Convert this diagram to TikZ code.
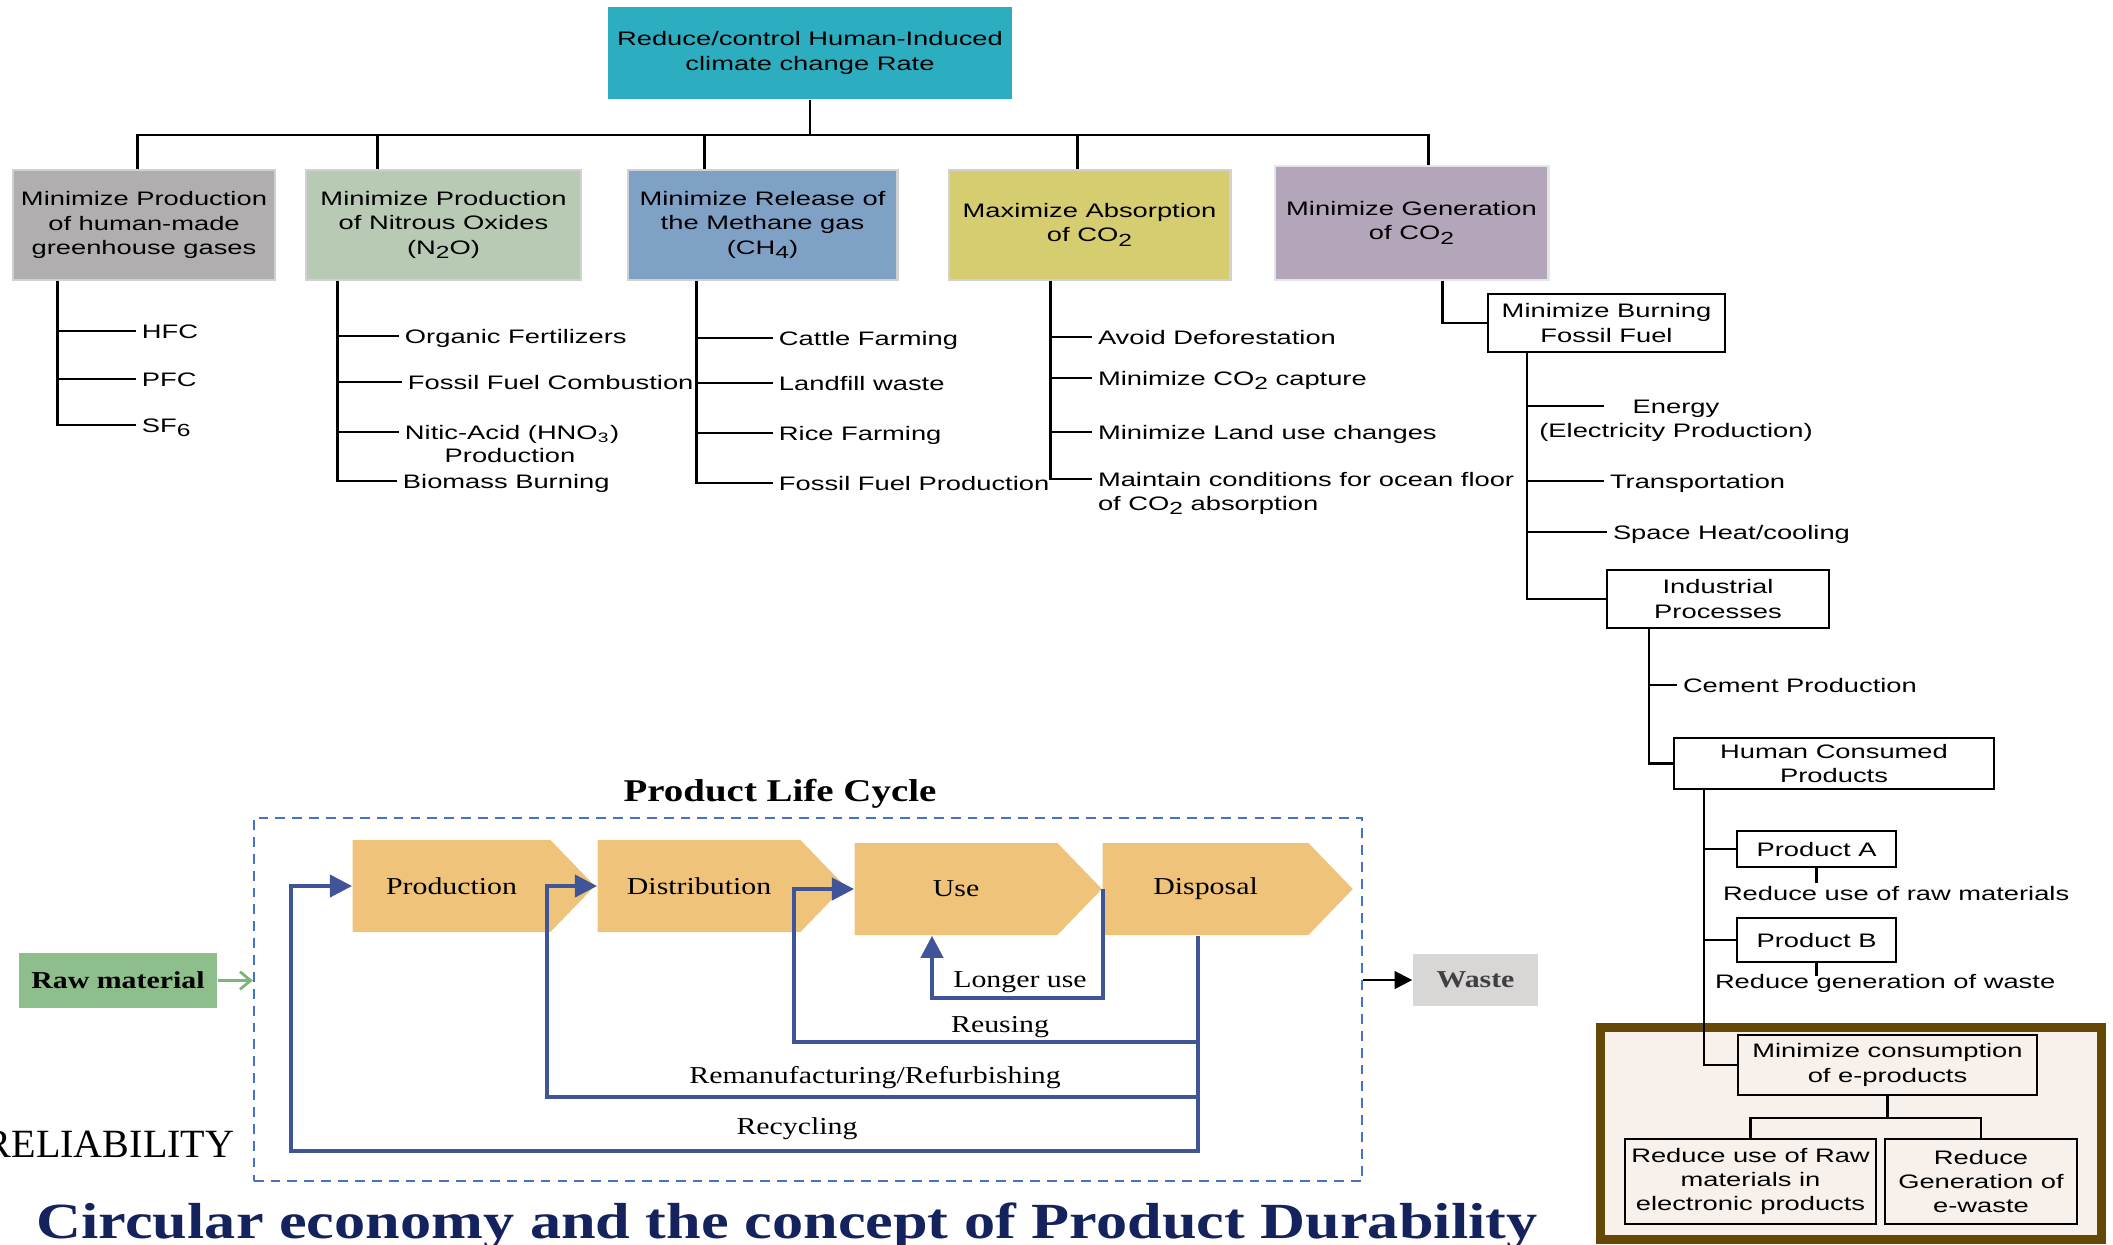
\documentclass[tikz,border=0pt]{standalone}
\usepackage{fontspec}
\setmainfont{Liberation Serif}[FakeStretch=1.23]
\newfontfamily\sansft{Liberation Sans}[FakeStretch=1.4]
\newfontfamily\plainserif{Liberation Serif}
\usetikzlibrary{positioning,calc,arrows.meta,shapes.symbols}

\definecolor{cteal}{RGB}{45,173,192}
\definecolor{cgray}{RGB}{177,174,176}
\definecolor{csage}{RGB}{184,201,180}
\definecolor{cblue}{RGB}{128,161,198}
\definecolor{cyell}{RGB}{214,205,112}
\definecolor{cpurp}{RGB}{179,166,186}
\definecolor{corange}{RGB}{240,195,122}
\definecolor{cloop}{RGB}{63,85,151}
\definecolor{cdash}{RGB}{68,114,196}
\definecolor{cgreen}{RGB}{142,190,139}
\definecolor{cgreenln}{RGB}{125,180,122}
\definecolor{cwaste}{RGB}{217,214,214}
\definecolor{cnavy}{RGB}{20,35,94}
\definecolor{cbrown}{RGB}{102,72,6}
\definecolor{cpale}{RGB}{247,240,235}

\newcommand\sfsmall{\sansft\fontsize{5.55}{6.9}\selectfont}
\newcommand\rmsmall{\fontsize{6.9}{8}\selectfont}
\newcommand\csub[1]{\raisebox{-0.45ex}{\fontsize{5}{5}\selectfont#1}}

\tikzset{
  ln/.style={line width=0.6pt},
  goalbox/.style={fill=#1, draw=black!18, line width=0.8pt, align=center, inner sep=1pt, font=\sfsmall},
  wbox/.style={draw, fill=white, line width=0.7pt, align=center, inner sep=1pt, font=\sfsmall},
  item/.style={anchor=west, inner sep=1.5pt, font=\sfsmall, text height=4.5pt, text depth=0.5pt},
  chev/.style={shape=signal, signal to=east, signal pointer angle=92, fill=corange,
    minimum height=0.92cm, inner sep=0pt, anchor=west, font=\rmsmall},
  loopline/.style={draw=cloop, line width=1.1pt, -{Triangle[length=6.3pt,width=6.3pt]}},
  lbl/.style={font=\rmsmall, inner sep=0pt},
  frame/.style={draw=cbrown, fill=cpale, line width=2.6pt},
}

\begin{document}
\begin{tikzpicture}[x=0.01cm, y=-0.01cm]
\useasboundingbox (0,0) rectangle (2113,1244);

% goal and first level
\node[goalbox=cteal, draw=none, minimum width=4.03cm, minimum height=0.91cm] (top) at (810,53)
  {Reduce/control Human-Induced\\climate change Rate};
\node[goalbox=cgray, minimum width=2.62cm, minimum height=1.1cm] (g1) at (144,225)
  {Minimize Production\\of human-made\\greenhouse gases};
\node[goalbox=csage, minimum width=2.75cm, minimum height=1.1cm] (g2) at (443.5,225)
  {Minimize Production\\of Nitrous Oxides\\(N\csub{2}O)};
\node[goalbox=cblue, minimum width=2.69cm, minimum height=1.1cm] (g3) at (762.5,225)
  {Minimize Release of\\the Methane gas\\(CH\csub{4})};
\node[goalbox=cyell, minimum width=2.81cm, minimum height=1.1cm] (g4) at (1089.5,225)
  {Maximize Absorption\\of CO\csub{2}};
\node[goalbox=cpurp, draw=black!10, minimum width=2.73cm, minimum height=1.14cm] (g5) at (1411.5,223)
  {Minimize Generation\\of CO\csub{2}};

\coordinate (bar) at ($(top.south)+(0,35)$);
\coordinate (d1) at ($(g1.north west)+(126,0)$);
\coordinate (d2) at ($(g2.north west)+(73,0)$);
\coordinate (d3) at ($(g3.north west)+(78,0)$);
\coordinate (d4) at ($(g4.north west)+(130,0)$);
\coordinate (d5) at ($(g5.north west)+(155,0)$);
\draw[ln] (top.south) -- (top.south |- bar);
\draw[ln] (d1) |- (d5 |- bar) -- (d5);
\foreach \d in {d2,d3,d4}
  \draw[ln] (\d) -- (\d |- bar);

% greenhouse gases
\node[item] (hfc) at (136,331) {HFC};
\node[item] (pfc) at (136,379) {PFC};
\node[item] (sf6) at (136,425) {SF\csub{6}};
\coordinate (b1) at ($(g1.south west)+(46,0)$);
\draw[ln] (b1) |- (sf6.west);
\foreach \n in {hfc,pfc}
  \draw[ln] (b1 |- \n) -- (\n.west);

% nitrous oxides
\node[item] (orgf) at (399,336) {Organic Fertilizers};
\node[item] (ffc) at (402,382) {Fossil Fuel Combustion};
\node[item] (nit) at (399,432) {Nitic-Acid (HNO\textsubscript{3})};
\node[item, anchor=center] (nitp) at (510,455) {Production};
\node[item] (biom) at (397,481) {Biomass Burning};
\coordinate (b2) at ($(g2.south west)+(33,0)$);
\draw[ln] (b2) |- (biom.west);
\foreach \n in {orgf,ffc,nit}
  \draw[ln] (b2 |- \n) -- (\n.west);

% methane
\node[item] (cat) at (773,338) {Cattle Farming};
\node[item] (lfw) at (773,383) {Landfill waste};
\node[item] (rice) at (773,433) {Rice Farming};
\node[item] (ffp) at (773,483) {Fossil Fuel Production};
\coordinate (b3) at ($(g3.south west)+(70,0)$);
\draw[ln] (b3) |- (ffp.west);
\foreach \n in {cat,lfw,rice}
  \draw[ln] (b3 |- \n) -- (\n.west);

% absorption
\node[item] (defo) at (1092,337) {Avoid Deforestation};
\node[item] (capt) at (1092,378) {Minimize CO\csub{2} capture};
\node[item] (land) at (1092,432) {Minimize Land use changes};
\node[item] (ocean) at (1092,479) {Maintain conditions for ocean floor};
\node[item] (ocean2) at (1092,503) {of CO\csub{2} absorption};
\coordinate (b4) at ($(g4.south west)+(103,0)$);
\draw[ln] (b4) |- (ocean.west);
\foreach \n in {defo,capt,land}
  \draw[ln] (b4 |- \n) -- (\n.west);

% generation
\node[wbox, minimum width=2.37cm, minimum height=0.58cm] (burn) at (1606.5,323) {Minimize Burning\\Fossil Fuel};
\coordinate (b5) at ($(g5.south west)+(169,0)$);
\draw[ln] (b5) |- (burn.west);

\node[item, anchor=center] (ene) at (1676,406) {Energy};
\node[item, anchor=center] (elec) at (1676,430) {(Electricity Production)};
\node[item] (trn) at (1604,481) {Transportation};
\node[item] (shc) at (1607,532) {Space Heat/cooling};
\node[wbox, minimum width=2.22cm, minimum height=0.58cm] (ind) at (1718,599) {Industrial\\Processes};
\coordinate (bb) at ($(burn.south west)+(40,0)$);
\draw[ln] (bb) |- (ind.west);
\draw[ln] (bb |- ene) -- (trn.west |- ene);
\foreach \n in {trn,shc}
  \draw[ln] (bb |- \n) -- (\n.west);

\node[item] (cem) at (1677,685) {Cement Production};
\node[wbox, minimum width=3.2cm, minimum height=0.51cm] (hcp) at (1834,763.5) {Human Consumed\\Products};
\coordinate (bi) at ($(ind.south west)+(43,0)$);
\draw[ln] (bi) |- (hcp.west);
\draw[ln] (bi |- cem) -- (cem.west);

% e-products
\draw[frame] (1600.5,1027.5) rectangle (2101.5,1239.5);
\node[wbox, minimum width=1.59cm, minimum height=0.36cm] (pa) at (1816.5,849) {Product A};
\node[wbox, minimum width=1.59cm, minimum height=0.44cm] (pb) at (1816.5,940) {Product B};
\node[item] (rraw) at (1717,893) {Reduce use of raw materials};
\node[item] (rgen) at (1709,981) {Reduce generation of waste};
\coordinate (ta) at ($(pa.south)+(0,15)$);
\coordinate (tb) at ($(pb.south)+(0,13)$);
\draw[ln] (pa.south) -- (ta);
\draw[ln] (pb.south) -- (tb);

\node[wbox, fill=cpale, minimum width=2.99cm, minimum height=0.6cm] (cons) at (1887.5,1065) {Minimize consumption\\of e-products};
\node[wbox, fill=cpale, minimum width=2.51cm, minimum height=0.85cm] (r1) at (1750.5,1181.5) {Reduce use of Raw\\materials in\\electronic products};
\node[wbox, fill=cpale, minimum width=1.92cm, minimum height=0.85cm] (r2) at (1981,1181.5) {Reduce\\Generation of\\e-waste};
\coordinate (bh) at ($(hcp.south west)+(31,0)$);
\draw[ln] (bh) |- (cons.west);
\foreach \n in {pa,pb}
  \draw[ln] (bh |- \n) -- (\n.west);
\coordinate (cj) at ($(cons.south)+(0,22)$);
\draw[ln] (cons.south) -- (cj);
\draw[ln] (r1.north) |- (cj) -| (r2.north);

% product life cycle
\node[font=\bfseries\fontsize{9}{10}\selectfont] (plct) at (780,794) {Product Life Cycle};
\node[draw=cdash, dash pattern=on 2.8pt off 2pt, line width=0.5pt,
  minimum width=11.08cm, minimum height=3.63cm] (cyc) at (808,999.5) {};

\node[chev, minimum width=2.42cm] (prod) at (352,886) {Production};
\node[chev, minimum width=2.47cm] (dist) at (597,886) {Distribution};
\node[chev, minimum width=2.47cm] (use) at (854,889) {Use};
\node[chev, minimum width=2.50cm] (disp) at (1102,889) {Disposal};

\coordinate (dout) at ($(disp.south west)+(96,0)$);
\coordinate (rcy) at (291,1151);
\coordinate (rmf) at (547,1097);
\coordinate (rus) at (794,1042);
\coordinate (lng) at (932,998);
\draw[loopline] (dout) |- (rcy) |- (prod.west);
\draw[loopline] (dout) |- (rmf) |- (dist.west);
\draw[loopline] (dout) |- (rus) |- (use.west);
\draw[loopline] (use.east) |- (lng) -- (lng |- use.south);

\node[lbl] (lngl) at (1020,982) {Longer use};
\node[lbl] (rusl) at (1000,1027) {Reusing};
\node[lbl] (rmfl) at (875,1078) {Remanufacturing/Refurbishing};
\node[lbl] (rcyl) at (797,1129) {Recycling};

\node[fill=cgreen, minimum width=1.98cm, minimum height=0.55cm, inner sep=0pt,
  font=\bfseries\rmsmall] (raw) at (118,980.5) {Raw material};
\draw[cgreenln, line width=0.8pt, -{Straight Barb[length=3pt,width=5pt]}] (raw.east) -- (raw.east -| cyc.west);
\node[fill=cwaste, minimum width=1.25cm, minimum height=0.52cm, inner sep=0pt,
  text=black!75, font=\bfseries\rmsmall] (waste) at (1475.5,980) {Waste};
\draw[ln, -{Triangle[length=5pt,width=5pt]}] (cyc.east |- waste) -- (waste.west);

\node[anchor=base east, inner sep=0pt, font=\plainserif\fontsize{11.4}{13}\selectfont] (rel) at (235,1157) {RELIABILITY};
\node[anchor=base, inner sep=0pt, text=cnavy, font=\bfseries\fontsize{14.4}{16}\selectfont] (ttl) at (787,1238)
  {Circular economy and the concept of Product Durability};
\end{tikzpicture}
\end{document}
